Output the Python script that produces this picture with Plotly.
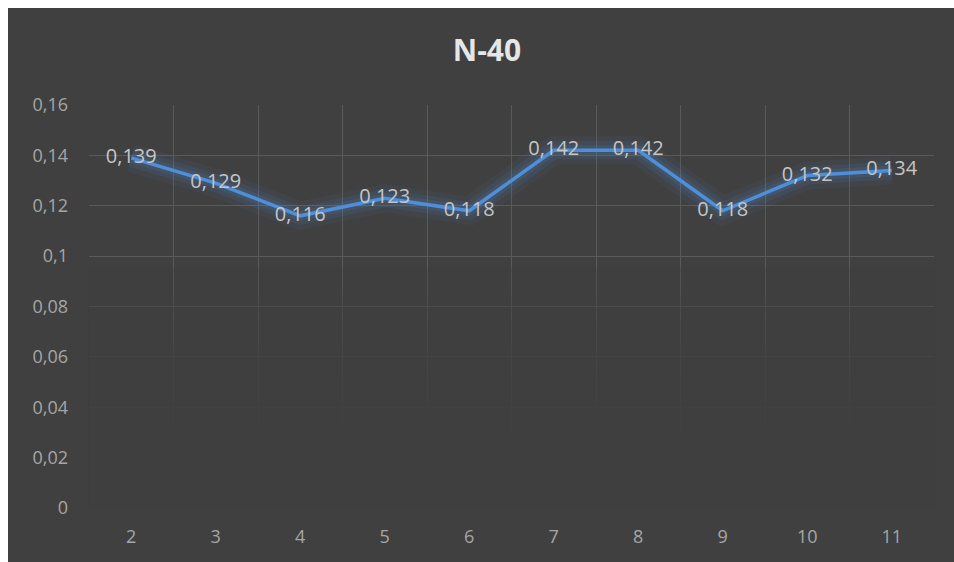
import plotly.graph_objects as go

categories = ["2", "3", "4", "5", "6", "7", "8", "9", "10", "11"]
values = [0.139, 0.129, 0.116, 0.123, 0.118, 0.142, 0.142, 0.118, 0.132, 0.134]
y_ticks = [0, 0.02, 0.04, 0.06, 0.08, 0.1, 0.12, 0.14, 0.16]
y_tick_labels = ["0", "0,02", "0,04", "0,06", "0,08", "0,1", "0,12", "0,14", "0,16"]
title_text = "N-40"

labels = [f"{v:.3f}".replace(".", ",") for v in values]

BG = "#404040"
fig = go.Figure()
# soft glow around the line
for w, a in [(28, 0.07), (18, 0.09), (10, 0.14)]:
    fig.add_trace(go.Scatter(x=categories, y=values, mode="lines",
                             line=dict(color=f"rgba(80,140,215,{a})", width=w),
                             hoverinfo="skip", showlegend=False))
fig.add_trace(go.Scatter(x=categories, y=values, mode="lines+text",
                         line=dict(color="#4f8fda", width=3.5),
                         text=labels, textposition="middle center",
                         textfont=dict(family="Open Sans", size=20, color="#c6c6c6"),
                         showlegend=False))

shapes = []
L, R, T, B = 89, 934, 105, 508
W, H = R - L, B - T
px = lambda x: (x - L) / W
py = lambda y: (B - y) / H
# white frame at top and left (outside the dark chart area)
shapes.append(dict(type="rect", xref="paper", yref="paper", x0=px(-5), x1=px(8),
                   y0=py(600), y1=py(-5), fillcolor="white", line=dict(width=0), layer="below"))
shapes.append(dict(type="rect", xref="paper", yref="paper", x0=px(-5), x1=px(960),
                   y0=py(8), y1=py(-5), fillcolor="white", line=dict(width=0), layer="below"))
# fade out the grid toward the bottom
N = 9
for k in range(1, N + 1):
    shapes.append(dict(type="rect", xref="paper", yref="y", x0=-0.001, x1=1.001,
                       y0=-0.001, y1=0.095 * k / N, fillcolor="rgba(64,64,64,0.27)",
                       line=dict(width=0), layer="above"))

fig.update_layout(
    width=954, height=562,
    margin=dict(l=L, r=954 - R, t=T, b=562 - B),
    paper_bgcolor=BG, plot_bgcolor=BG,
    separators=", ",
    title=dict(text=f"<b>{title_text}</b>", x=487 / 954, xanchor="center",
               y=1 - 50 / 562, yanchor="middle",
               font=dict(family="Open Sans", size=30, color="#e6e6e6")),
    xaxis=dict(type="category", showgrid=True, gridcolor="#5a5a5a", gridwidth=1,
               showline=False, zeroline=False, ticks="", tickson="boundaries",
               tickfont=dict(family="Open Sans", size=18, color="#a6a6a6"),
               ticklabelstandoff=16, range=[-0.5, 9.5]),
    yaxis=dict(range=[0, 0.16], tickvals=y_ticks, ticktext=y_tick_labels,
               showgrid=True, gridcolor="#5a5a5a", gridwidth=1, zeroline=False,
               showline=False, ticks="", ticklabelstandoff=20,
               tickfont=dict(family="Open Sans", size=18, color="#a6a6a6")),
    shapes=shapes,
)
fig.write_html("out.html")
